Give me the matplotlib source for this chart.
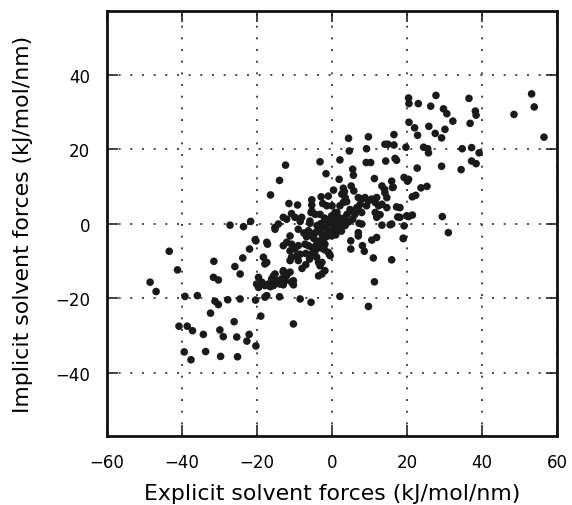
import matplotlib
matplotlib.use("Agg")
import matplotlib.pyplot as plt
import numpy as np

# -- Data: (explicit, implicit) force components
pts = [
    # upper right
    (20.4, 33.7), (20.5, 32.2), (23.0, 32.2), (27.7, 34.4), (26.3, 31.5), (29.7, 30.8),
    (30.6, 29.5), (36.5, 33.6), (38.2, 30.2), (38.4, 29.1), (36.8, 26.9), (32.2, 27.5),
    (20.5, 27.2), (22.0, 25.7), (22.8, 23.7), (25.8, 26.1), (27.5, 24.2), (30.1, 25.3),
    (29.2, 23.0), (19.7, 20.5), (24.4, 20.5), (25.5, 20.1), (25.7, 19.0), (34.7, 20.1),
    (37.2, 20.4), (39.2, 19.0), (48.5, 29.3), (53.2, 34.8), (53.9, 31.3), (56.5, 23.2),
    (37.2, 16.8), (38.4, 16.1), (34.4, 14.5), (29.2, 15.4), (22.7, 14.9), (19.2, 12.4),
    (20.4, 11.9), (20.1, 11.4), (25.3, 10.0), (23.7, 9.6), (22.3, 7.6), (21.4, 7.2),
    (18.1, 4.3), (18.1, 1.7), (20.4, 1.9), (21.4, 2.3), (29.4, 1.9), (31.0, -2.4),
    (19.0, -4.0),
    # top middle
    (4.4, 22.9), (4.6, 19.5), (9.7, 23.3), (9.2, 20.1), (14.1, 21.3), (14.9, 21.3),
    (16.5, 23.9), (16.5, 21.1), (-3.2, 16.6), (2.1, 17.1), (9.1, 16.4), (10.3, 16.4),
    (14.3, 16.8), (16.8, 17.5), (17.2, 17.0), (-12.4, 15.7), (-1.6, 13.4), (5.5, 14.6),
    (5.7, 13.0), (-14.0, 11.6), (1.9, 11.9), (11.3, 12.1), (15.9, 11.4), (16.3, 9.8),
    (-16.4, 7.7), (0.4, 9.0), (3.0, 9.5), (3.3, 8.6), (5.1, 10.1), (5.8, 8.8),
    (13.3, 10.1), (14.0, 9.2), (14.1, 8.3), (16.1, 9.7), (14.6, 7.0), (-2.9, 7.2),
    (-1.0, 7.4), (-5.4, 6.4), (-5.4, 5.0), (-2.5, 5.4), (-1.4, 4.8), (0.0, 4.8),
    (2.6, 7.9), (3.5, 7.0), (3.0, 5.7), (2.1, 4.8), (3.9, 5.9), (7.0, 7.0),
    (7.9, 6.6), (8.8, 7.0), (9.7, 6.1), (10.6, 6.6), (11.9, 7.0), (11.5, 5.7),
    (12.4, 4.8), (13.3, 5.2), (9.2, 4.8), (7.5, 5.2), (6.6, 4.3), (6.1, 2.5),
    (7.9, 3.0), (5.1, 3.4), (7.0, 3.9), (14.6, 4.3), (17.2, 4.5), (17.5, 1.8),
    (19.9, 2.1), (11.5, 3.0), (12.8, 2.4), (11.9, 1.7), (13.3, -0.4), (15.5, -0.3),
    (15.9, -0.1), (19.2, -0.6), (7.9, -0.1), (7.2, 0.1),
    # central cluster
    (-11.5, 5.4), (-9.2, 5.0), (-10.8, 2.7), (-9.9, 1.7), (-13.0, 1.7), (-12.1, 1.2),
    (-8.1, 1.7), (-8.5, 0.6), (-5.4, 3.4), (-4.5, 2.5), (-3.2, 2.5), (-1.9, 1.2),
    (-0.1, 2.1), (1.3, 3.0), (1.7, 1.7), (0.8, 3.0), (2.6, 0.7), (1.3, -0.6),
    (2.1, -1.0), (0.8, -1.9), (-14.3, -0.1), (-15.2, -1.0), (-9.0, -1.5), (-6.3, -1.9),
    (-5.4, -3.3), (-4.5, -2.4), (-3.6, -1.5), (-2.7, -2.8), (-2.3, -4.1), (-3.2, -4.6),
    (-4.1, -5.5), (-1.9, -5.5), (-1.0, -1.9), (-0.1, -3.3), (0.8, -1.5), (1.3, -0.1),
    (2.1, 0.3), (-5.9, 0.7), (-5.9, 0.1), (-5.6, 3.0), (-21.7, 0.6), (-15.2, -1.5),
    (-2.0, -1.0), (-1.0, 0.0), (0.0, 0.5), (0.5, -0.8), (-0.5, -2.5), (1.0, -3.0),
    (-1.5, -3.5), (-3.0, 0.0), (-4.0, -0.5), (-2.0, 1.5), (-0.8, 1.0), (1.0, 1.0),
    (2.5, -2.0), (3.2, 1.5), (4.0, 2.5), (4.5, 0.5), (3.5, -0.5), (5.5, 1.2),
    (4.8, 3.8), (-6.8, -3.5), (-7.5, -2.5), (-4.8, -4.0), (-3.0, -6.5), (-2.0, -7.0),
    (-6.0, -9.5), (-7.0, -8.0), (-8.0, -12.0), (-7.0, -11.0),
    (-17.4, -5.0), (-11.2, -3.3), (-12.1, -5.0), (-10.8, -5.5), (-13.0, -5.9), (-11.2, -7.3),
    (-9.9, -6.8), (-9.0, -5.9), (-10.8, -9.0), (-9.4, -8.6), (-8.5, -8.2), (-11.2, -9.9),
    (-9.0, -9.9), (-7.2, -5.5), (-6.3, -5.9), (-5.4, -6.4), (-4.5, -7.3), (-5.4, -8.2),
    (-4.1, -9.0), (-3.6, -10.4), (-1.0, -7.7), (-0.5, -8.6), (-1.9, -12.6), (-2.7, -13.5),
    (-3.6, -14.0), (-2.7, -10.4), (-3.2, -11.3), (-17.9, -10.8), (-18.3, -9.0), (-17.4, -10.4),
    (-20.3, -4.6), (-17.2, -5.5),
    (-15.6, -14.0), (-14.7, -15.3), (-16.1, -14.8), (-13.0, -13.0), (-11.2, -13.0), (-13.4, -14.8),
    (-12.5, -15.3), (-10.8, -15.7), (-17.0, -16.2), (-13.9, -16.2), (-20.1, -16.2), (-18.7, -15.7),
    (-16.1, -16.6), (-15.2, -13.5), (-13.0, -12.6), (-12.1, -14.0), (-10.3, -15.3),
    # right of centre, below zero
    (7.0, -2.4), (7.0, -3.3), (5.0, -4.6), (5.0, -6.8), (10.6, -4.4), (11.9, -3.7),
    (8.1, -5.9), (8.6, -7.4), (19.0, -3.9), (11.0, -9.2), (15.9, -9.7), (11.3, -15.6),
    (-0.7, -8.2),
    # lower left
    (-27.2, -0.4), (-23.6, -0.8), (-20.5, -4.3), (-22.0, -6.8), (-23.8, -9.2), (-25.9, -11.5),
    (-24.5, -13.5), (-31.5, -10.1), (-31.6, -14.4), (-30.3, -15.1), (-43.4, -7.4), (-41.2, -12.4),
    (-48.5, -15.7), (-46.9, -18.2), (-19.6, -14.4), (-19.6, -17.1),
    (-39.2, -19.5), (-35.9, -19.3), (-31.2, -20.8), (-30.3, -21.7), (-27.8, -20.4), (-24.5, -20.2),
    (-20.4, -20.5), (-19.0, -24.8), (-32.4, -24.0), (-26.1, -26.3), (-40.8, -27.5), (-38.6, -27.5),
    (-37.2, -28.7), (-34.3, -29.7), (-29.9, -28.5), (-29.0, -30.3), (-25.4, -30.4), (-22.1, -29.7),
    (-22.7, -31.5), (-20.3, -32.8), (-39.4, -34.4), (-37.6, -36.5), (-33.7, -34.3), (-29.7, -35.6),
    (-25.2, -35.7),
    (-17.9, -16.6), (-16.5, -16.9), (-15.6, -16.6), (-13.0, -16.4), (-10.3, -16.4), (-17.9, -19.7),
    (-17.4, -19.3), (-14.0, -19.6), (-8.5, -20.2), (-5.6, -21.1), (2.1, -19.5), (9.7, -22.2),
    (-10.3, -26.9),
]
explicit = [p[0] for p in pts]
implicit = [p[1] for p in pts]

xticks = [-60, -40, -20, 0, 20, 40, 60]
yticks = [-40, -20, 0, 20, 40]

fig = plt.figure(figsize=(5.72, 5.06), dpi=100)
ax = fig.add_axes([0.187, 0.136, 0.787, 0.840])

ax.scatter(explicit, implicit, s=30, color="#1a1a1a", edgecolors="none", zorder=3)

ax.set_xlim(-60, 60)
ax.set_ylim(-57, 57)
ax.set_xticks(xticks)
ax.set_yticks(yticks)
ax.grid(True, color="#444444", linestyle=(0, (1, 5)), linewidth=1.4)

for sp in ax.spines.values():
    sp.set_linewidth(2.0)
    sp.set_color("#111111")
ax.tick_params(direction="in", length=8, width=1.2, top=True, right=True,
               labelsize=12, pad=12, color="#222222")

ax.set_xlabel("Explicit solvent forces (kJ/mol/nm)", fontsize=15.8, labelpad=9)
ax.set_ylabel("Implicit solvent forces (kJ/mol/nm)", fontsize=15.8, labelpad=16)

fig.savefig("out.png", dpi=100)
